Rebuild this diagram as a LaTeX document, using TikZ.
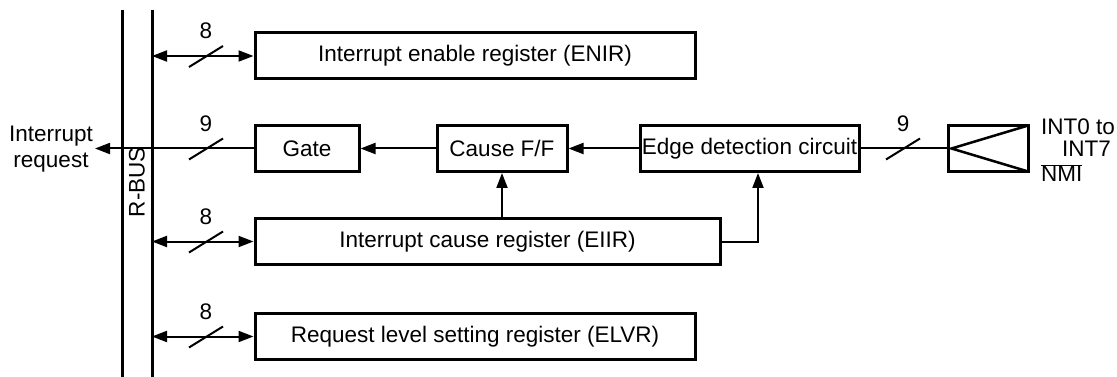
\documentclass[tikz,border=0pt]{standalone}
\usepackage{fontspec}
\setmainfont{Liberation Sans}
\usetikzlibrary{positioning, calc, arrows.meta}

\tikzset{
  regbox/.style={draw, line width=3pt, minimum height=46pt, inner sep=0pt, font=\fontsize{22.5}{26}\selectfont},
  conn/.style={line width=2pt, -{Triangle[length=15pt,width=11pt]}},
  bidir/.style={line width=2pt, {Triangle[length=15pt,width=11pt]}-{Triangle[length=15pt,width=11pt]}},
  lbl/.style={font=\fontsize{22.5}{26}\selectfont, inner sep=0pt},
  bslash/.pic={
    \draw[-, line width=2pt] (-17,11) -- (17,-10);
    \node[lbl] at (0,-25) {#1};
  }
}

\begin{document}
\begin{tikzpicture}[x=1pt, y=-1pt]
            \useasboundingbox (0,0) rectangle (1117,377);

            % R-BUS
            \coordinate (busL) at (122,10);
            \coordinate (busR) at (152,10);
            \draw[line width=3pt] (busL) -- (122,377);
            \draw[line width=3pt] (busR) -- (152,377);
            \node[lbl, rotate=90] (rbus) at (137,182) {R-BUS};

            % Registers
            \node[regbox, minimum width=440pt] (enir) at (475,56) {Interrupt enable register (ENIR)};
            \node[regbox, minimum width=465pt] (eiir) at (487.5,241.5) {Interrupt cause register (EIIR)};
            \node[regbox, minimum width=440pt] (elvr) at (475,336.5) {Request level setting register (ELVR)};

            % Interrupt path
            \node[regbox, minimum width=104pt] (gate) at (307,148.5) {Gate};
            \node[regbox, minimum width=130pt] (cff) at (502,148.5) {Cause F/F};
            \node[regbox, minimum width=219pt] (edge) at (749.5,148.5) {Edge detection circuit};
            \node[draw, line width=3pt, minimum width=80pt, minimum height=46pt] (inp) at (988,148.5) {};
            \draw[line width=2.5pt, line join=miter] ($(inp.north east)+(-3,2)$) -- ($(inp.west)+(5,0)$) -- ($(inp.south east)+(-3,-2)$);

            % Input pins
            \node[lbl, anchor=west] (int0) at (1041,127) {INT0 to};
            \node[lbl, anchor=east] (int7) at (1111,149) {INT7};
            \node[lbl, anchor=west] (nmi) at (1041,173) {$\overline{\mbox{NMI}}$};

            % Interrupt request output
            \coordinate (req) at (95,148.5);
            \node[lbl, align=center] (reqtxt) at (51,149) {Interrupt\\request};

            % Bus connections
            \draw[bidir] (busR |- enir.west) -- (enir.west);
            \pic at (206,56) {bslash=8};
            \draw[bidir] (busR |- eiir.west) -- (eiir.west);
            \pic at (206,241.5) {bslash=8};
            \draw[bidir] (busR |- elvr.west) -- (elvr.west);
            \pic at (206,336.5) {bslash=8};
            \draw[conn] (gate.west) -- (req);
            \pic at (206,148.5) {bslash=9};

            % Signal flow
            \draw[conn] (cff.west) -- (gate.east);
            \draw[conn] (edge.west) -- (cff.east);
            \draw[line width=2pt] (inp.west) -- (edge.east);
            \pic at (903,148.5) {bslash=9};
            \draw[conn] (eiir.north -| cff.south) -- (cff.south);
            \draw[conn] (eiir.east) -| ($(edge.south)+(8.5,0)$);
\end{tikzpicture}
\end{document}
